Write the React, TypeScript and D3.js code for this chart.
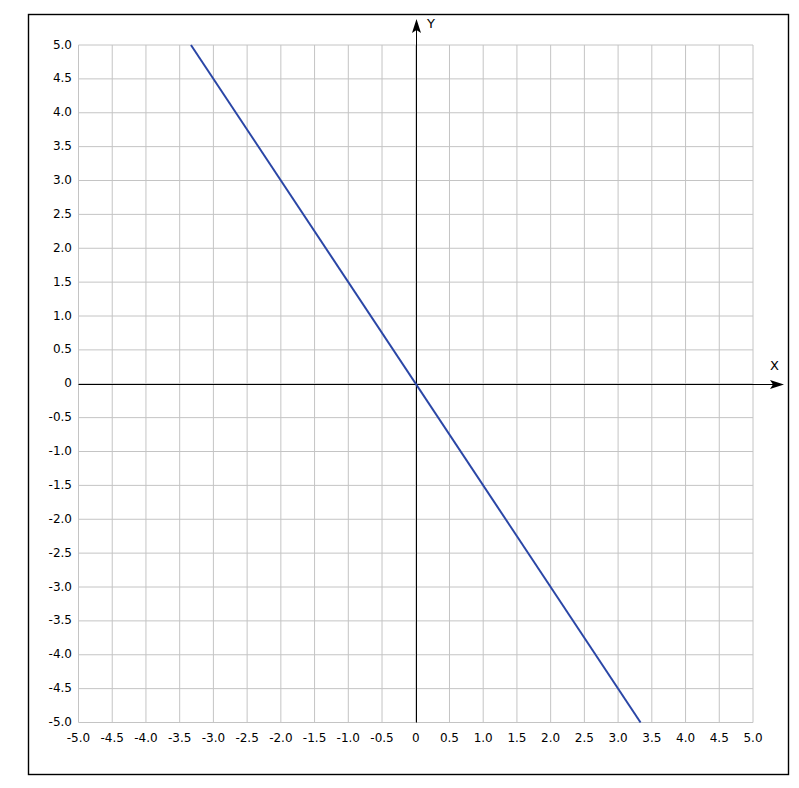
import React from "react";
import * as d3 from "d3";

const xTicks = [-5.0, -4.5, -4.0, -3.5, -3.0, -2.5, -2.0, -1.5, -1.0, -0.5, 0, 0.5, 1.0, 1.5, 2.0, 2.5, 3.0, 3.5, 4.0, 4.5, 5.0];
const yTicks = [5.0, 4.5, 4.0, 3.5, 3.0, 2.5, 2.0, 1.5, 1.0, 0.5, 0, -0.5, -1.0, -1.5, -2.0, -2.5, -3.0, -3.5, -4.0, -4.5, -5.0];
const lineXs = [-3.333, 3.333];
const lineYs = [5.0, -5.0];
const xLabel = "X";
const yLabel = "Y";

const fmt = (v: number) => (v === 0 ? "0" : v.toFixed(1));

export default function App() {
  const W = 799, H = 788;
  const left = 78.5, right = 753, top = 45, bottom = 722.5;
  const x = d3.scaleLinear().domain([-5, 5]).range([left, right]);
  const y = d3.scaleLinear().domain([-5, 5]).range([bottom, top]);
  const x0 = Math.round(x(0)) + 0.5;
  const y0 = Math.round(y(0)) + 0.5;
  const pts = lineXs.map((v, i) => [v, lineYs[i]] as [number, number]);
  const line = d3.line<[number, number]>().x(d => x(d[0])).y(d => y(d[1]));
  const font = "DejaVu Sans, Verdana, sans-serif";
  return (
    <svg width={W} height={H} style={{ position: "absolute", left: 0, top: 0, background: "#fff" }}>
      <rect x={28.5} y={14.5} width={760} height={760} fill="#fff" stroke="#000" strokeWidth={1.4} />
      <g stroke="#c4c4c4" strokeWidth={1}>
        {xTicks.map(t => (
          <line key={"vx" + t} x1={x(t)} x2={x(t)} y1={top} y2={bottom} />
        ))}
        {yTicks.map(t => (
          <line key={"hy" + t} x1={left} x2={right} y1={y(t)} y2={y(t)} />
        ))}
      </g>
      <g fontFamily={font} fontSize={12} fill="#000">
        {yTicks.map(t => (
          <text key={"ly" + t} x={72} y={y(t)} textAnchor="end" dominantBaseline="middle">{fmt(t)}</text>
        ))}
        {xTicks.map(t => (
          <text key={"lx" + t} x={x(t)} y={738} textAnchor="middle" dominantBaseline="middle">{fmt(t)}</text>
        ))}
      </g>
      <line x1={left} x2={774} y1={y0} y2={y0} stroke="#000" strokeWidth={1} />
      <line x1={x0} x2={x0} y1={bottom} y2={30} stroke="#000" strokeWidth={1} />
      <path d={`M${x0},19 L${x0 - 4.5},33 L${x0},30 L${x0 + 4.5},33 Z`} fill="#000" />
      <path d={`M784,${y0} L770,${y0 - 4.5} L773,${y0} L770,${y0 + 4.5} Z`} fill="#000" />
      <text x={427} y={24} fontFamily={font} fontSize={13} dominantBaseline="middle">{yLabel}</text>
      <text x={770} y={366} fontFamily={font} fontSize={13} dominantBaseline="middle">{xLabel}</text>
      <path d={line(pts) || ""} fill="none" stroke="#2a46a6" strokeWidth={2} />
    </svg>
  );
}
